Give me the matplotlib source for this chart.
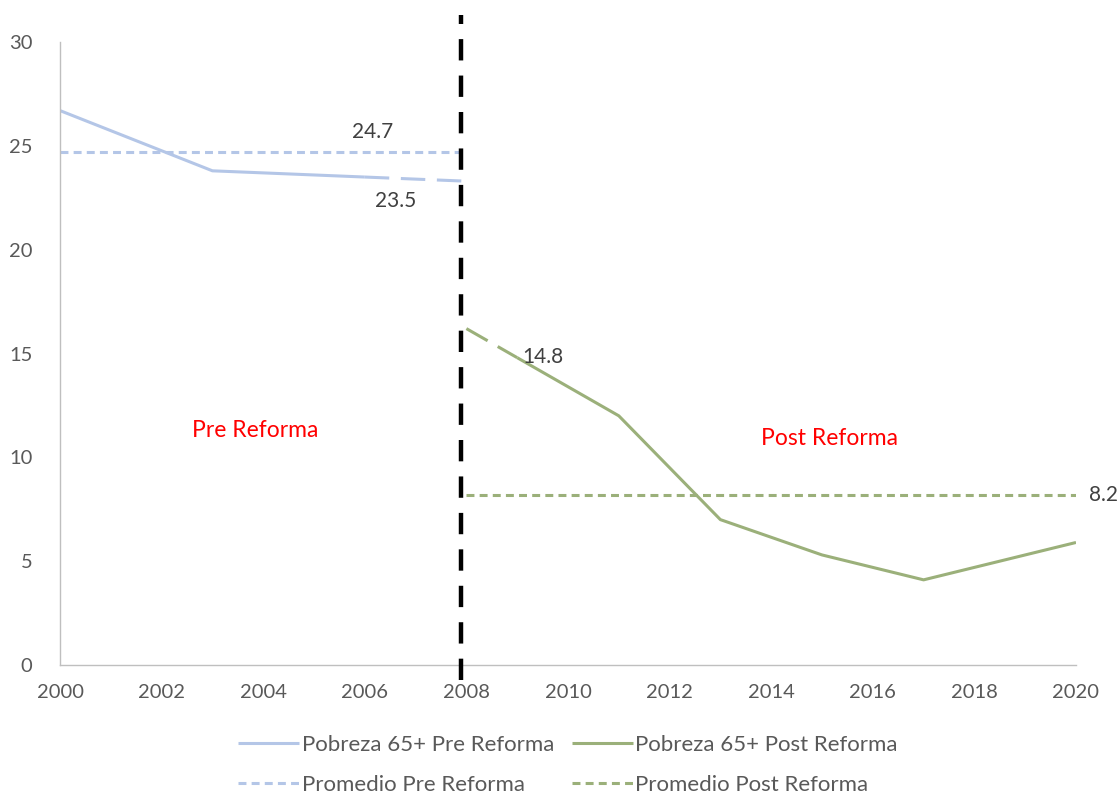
"""Pobreza 65+ antes y después de la reforma."""

import matplotlib

matplotlib.use("Agg")
import matplotlib.pyplot as plt  # noqa: E402

plt.rcParams["font.family"] = ["Lato", "DejaVu Sans"]

# pobreza 65+ (%), tramo pre reforma
pre_years = [2000, 2003, 2006, 2008]
pre_values = [26.7, 23.8, 23.5, 23.3]
# tramo post reforma
post_years = [2008, 2009, 2011, 2013, 2015, 2017, 2020]
post_values = [16.2, 14.8, 12.0, 7.0, 5.3, 4.1, 5.9]

pre_avg = 24.7
post_avg = 8.2
pre_avg_span = [2000, 2008]
post_avg_span = [2008, 2020]
reform_year = 2007.9

PRE_COLOR = "#B4C6E7"
POST_COLOR = "#9BB07A"
TEXT_COLOR = "#404040"


def main() -> None:
    fig = plt.figure(figsize=(11.2, 7.94), dpi=100)
    ax = fig.add_axes([0.0536, 0.1625, 0.9071, 0.7845])

    lw = 2.2
    # solid part + dashed link toward the reform year
    ax.plot(pre_years[:3], pre_values[:3], color=PRE_COLOR, lw=lw,
            label="Pobreza 65+ Pre Reforma", solid_capstyle="butt")
    ax.plot(pre_years[2:], pre_values[2:], color=PRE_COLOR, lw=lw,
            dashes=(8.0, 3.8), dash_capstyle="butt")
    ax.plot(pre_avg_span, [pre_avg, pre_avg], color=PRE_COLOR, lw=lw,
            dashes=(2.6, 1.7), label="Promedio Pre Reforma")

    ax.plot(post_years[1:], post_values[1:], color=POST_COLOR, lw=lw,
            label="Pobreza 65+ Post Reforma", solid_capstyle="butt")
    ax.plot(post_years[:2], post_values[:2], color=POST_COLOR, lw=lw,
            dashes=(8.0, 3.8), dash_capstyle="butt")
    ax.plot(post_avg_span, [post_avg, post_avg], color=POST_COLOR, lw=lw,
            dashes=(2.6, 1.7), label="Promedio Post Reforma")

    ax.plot([reform_year, reform_year], [-0.72, 31.3], color="black", lw=3.2,
            dashes=(4.8, 3.4), clip_on=False, zorder=5)

    fs = 15
    ax.text(2006.15, pre_avg + 0.5, f"{pre_avg:.1f}", fontsize=fs, color=TEXT_COLOR,
            ha="center", va="bottom")
    ax.text(pre_years[2] + 0.6, pre_values[2] - 0.65, f"{pre_values[2]:.1f}", fontsize=fs,
            color=TEXT_COLOR, ha="center", va="top")
    ax.text(post_years[1] + 0.5, post_values[1] + 0.05, f"{post_values[1]:.1f}", fontsize=fs,
            color=TEXT_COLOR, ha="center", va="center")
    ax.text(post_avg_span[1] + 0.25, post_avg, f"{post_avg:.1f}", fontsize=fs,
            color=TEXT_COLOR, ha="left", va="center")

    ax.text(2003.85, 11.3, "Pre Reforma", color="red", fontsize=16.5, ha="center", va="center")
    ax.text(2015.15, 10.9, "Post Reforma", color="red", fontsize=16.5, ha="center", va="center")

    ax.set_xlim(2000, 2020)
    ax.set_ylim(0, 30)
    ax.set_xticks(range(2000, 2021, 2))
    ax.set_yticks(range(0, 31, 5))
    ax.tick_params(length=0, labelsize=14.5, labelcolor="#595959")
    ax.tick_params(axis="x", pad=14)
    ax.tick_params(axis="y", pad=20)
    for side in ("top", "right"):
        ax.spines[side].set_visible(False)
    for side in ("left", "bottom"):
        ax.spines[side].set_color("#BFBFBF")
        ax.spines[side].set_linewidth(1.0)

    handles, labels = ax.get_legend_handles_labels()
    ax.legend(handles, labels,
              loc="upper center", bbox_to_anchor=(0.5, -0.08), ncol=2,
              frameon=False, fontsize=16, labelcolor="#595959",
              handlelength=2.75, handletextpad=0.1, columnspacing=0.8,
              labelspacing=0.9)

    fig.savefig("out.png", dpi=100)
    plt.close(fig)


if __name__ == "__main__":
    main()
